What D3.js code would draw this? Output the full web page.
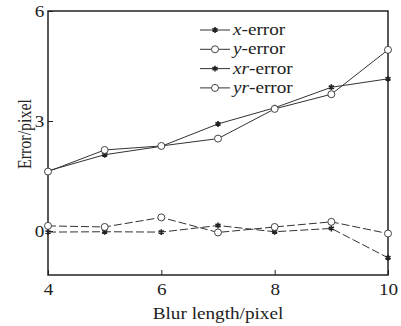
<!DOCTYPE html>
<html>
<head>
<meta charset="utf-8">
<script src="https://cdn.jsdelivr.net/npm/d3@7"></script>
<style>
  body { margin: 0; background: #fff; }
  text { font-family: "Liberation Serif", "DejaVu Serif", serif; fill: #222; }
</style>
</head>
<body>
<div id="chart"></div>
<script>
// Blur length vs error
const blurLength = [4, 5, 6, 7, 8, 9, 10];
const xError = [1.64, 2.08, 2.31, 2.92, 3.36, 3.92, 4.15];
const yError = [1.62, 2.21, 2.32, 2.52, 3.33, 3.73, 4.94];
const xrError = [-0.03, -0.02, -0.03, 0.15, -0.02, 0.07, -0.73];
const yrError = [0.14, 0.11, 0.37, -0.04, 0.11, 0.25, -0.07];
const xTicks = [4, 6, 8, 10];
const yTicks = [0, 3, 6];

const w = 401;
const h = 326;
const margin = { left: 48, right: 13, top: 11, bottom: 51 };
const stretch = "scale(1.2,1)"; // the figure's text is a bit wide

const series = [
  { name: "x", values: xError, marker: "star", dashed: false },
  { name: "y", values: yError, marker: "circle", dashed: false },
  { name: "xr", values: xrError, marker: "star", dashed: true },
  { name: "yr", values: yrError, marker: "circle", dashed: true }
];

const xScale = d3.scaleLinear().domain([4, 10]).range([margin.left, w - margin.right]);
const yScale = d3.scaleLinear().domain([-1.2, 6]).range([h - margin.bottom, margin.top]);

const svg = d3.select("#chart").append("svg").attr("width", w).attr("height", h);

// axes with inward ticks
svg.append("g")
  .attr("transform", `translate(0, ${h - margin.bottom})`)
  .call(d3.axisBottom(xScale).tickValues(xTicks).tickFormat(d3.format("d")).tickSizeInner(-5).tickSizeOuter(0).tickPadding(9))
  .call((g) => g.select(".domain").remove())
  .call((g) => g.selectAll("line").attr("stroke", "#222"))
  .call((g) => g.selectAll("text").attr("font-size", 16).attr("font-family", "Liberation Serif").attr("fill", "#222").attr("transform", stretch));

svg.append("g")
  .attr("transform", `translate(${margin.left}, 0)`)
  .call(d3.axisLeft(yScale).tickValues(yTicks).tickFormat(d3.format("d")).tickSizeInner(-5).tickSizeOuter(0).tickPadding(3))
  .call((g) => g.select(".domain").remove())
  .call((g) => g.selectAll("line").attr("stroke", "#222"))
  .call((g) => g.selectAll("text").attr("font-size", 16).attr("font-family", "Liberation Serif").attr("fill", "#222").attr("transform", stretch));

// frame
svg.append("rect")
  .attr("x", margin.left)
  .attr("y", margin.top)
  .attr("width", w - margin.left - margin.right)
  .attr("height", h - margin.top - margin.bottom)
  .attr("fill", "none")
  .attr("stroke", "#222")
  .attr("stroke-width", 1.5);

const line = d3.line().x((d, i) => xScale(blurLength[i])).y((d) => yScale(d));

function drawMarker(g, type, x, y) {
  if (type === "circle") {
    g.append("circle").attr("cx", x).attr("cy", y).attr("r", 3.5)
      .attr("fill", "#fff").attr("stroke", "#444").attr("stroke-width", 1);
  } else {
    g.append("path")
      .attr("transform", `translate(${x},${y})`)
      .attr("d", d3.symbol(d3.symbolAsterisk, 24)())
      .attr("fill", "none").attr("stroke", "#222").attr("stroke-width", 1.6);
  }
}

series.forEach((s) => {
  const g = svg.append("g");
  g.append("path")
    .attr("d", line(s.values))
    .attr("fill", "none")
    .attr("stroke", "#333")
    .attr("stroke-width", 1)
    .attr("stroke-dasharray", s.dashed ? "8,3" : null);
  s.values.forEach((v, i) => drawMarker(g, s.marker, xScale(blurLength[i]), yScale(v)));
});

// legend
const legend = svg.append("g");
series.forEach((s, i) => {
  const ly = 30 + i * 19.3;
  legend.append("line").attr("x1", 200).attr("x2", 230).attr("y1", ly).attr("y2", ly)
    .attr("stroke", "#333").attr("stroke-width", 1);
  drawMarker(legend, s.marker, 215, ly);
  const t = legend.append("text")
    .attr("transform", `translate(233, ${ly + 5}) ${stretch}`)
    .attr("font-size", 16);
  t.append("tspan").attr("font-style", "italic").text(s.name);
  t.append("tspan").text("-error");
});

// axis titles
svg.append("text")
  .attr("transform", `translate(${(margin.left + w - margin.right) / 2}, 319) ${stretch}`)
  .attr("text-anchor", "middle")
  .attr("font-size", 16)
  .text("Blur length/pixel");

svg.append("text")
  .attr("transform", "translate(31, 134) rotate(-90) scale(1,1.2)")
  .attr("text-anchor", "middle")
  .attr("font-size", 16)
  .text("Error/pixel");
</script>
</body>
</html>
